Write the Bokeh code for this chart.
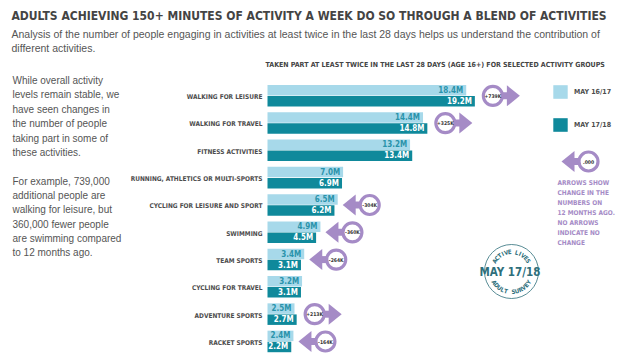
import math
from bokeh.plotting import figure
from bokeh.models import Range1d, Label, Legend, LegendItem, ColumnDataSource
from bokeh.core.properties import value
from bokeh.embed import file_html
from bokeh.resources import INLINE

# ---------------- data ----------------
categories = ["WALKING FOR LEISURE", "WALKING FOR TRAVEL", "FITNESS ACTIVITIES",
              "RUNNING, ATHLETICS OR MULTI-SPORTS", "CYCLING FOR LEISURE AND SPORT",
              "SWIMMING", "TEAM SPORTS", "CYCLING FOR TRAVEL", "ADVENTURE SPORTS",
              "RACKET SPORTS"]
may_16_17 = [18.4, 14.4, 13.2, 7.0, 6.5, 4.9, 3.4, 3.2, 2.5, 2.4]
may_17_18 = [19.2, 14.8, 13.4, 6.9, 6.2, 4.5, 3.1, 3.1, 2.7, 2.2]
change_labels = ["+739K", "+325K", None, None, "-304K", "-360K", "-264K", None, "+213K", "-164K"]
series_names = ["MAY 16/17", "MAY 17/18"]

title_text = "ADULTS ACHIEVING 150+ MINUTES OF ACTIVITY A WEEK DO SO THROUGH A BLEND OF ACTIVITIES"
subtitle_lines = ["Analysis of the number of people engaging in activities at least twice in the last 28 days helps us understand the contribution of",
                  "different activities."]
para1 = ["While overall activity", "levels remain stable, we", "have seen changes in",
         "the number of people", "taking part in some of", "these activities."]
para2 = ["For example, 739,000", "additional people are", "walking for leisure, but",
         "360,000 fewer people", "are swimming compared", "to 12 months ago."]
chart_header = "TAKEN PART AT LEAST TWICE IN THE LAST 28 DAYS (AGE 16+) FOR SELECTED ACTIVITY GROUPS"
key_note = ["ARROWS SHOW", "CHANGE IN THE", "NUMBERS ON", "12 MONTHS AGO.", "NO ARROWS",
            "INDICATE NO", "CHANGE"]

# ---------------- style ----------------
W, H = 624, 361
LIGHT = "#a7d9ea"
DARK = "#0f899b"
LIGHT_TXT = "#2a93ab"
PURPLE = "#a58bc6"
GREY = "#4d4d4d"
TEAL = "#2e6f7b"
COND = "DejaVu Sans Condensed"
SANS = "Liberation Sans"

PX = 10.8      # px per million
PY = 27.3      # px per category row
X0 = 267       # page x of zero
Y0 = 95.3      # page y of first row centre

x_start = (0 - X0) / PX
x_end = (W - X0) / PX
y_start = (H - Y0) / PY
y_end = (0 - Y0) / PY

p = figure(width=W, height=H, output_backend="svg", toolbar_location=None,
           x_range=Range1d(x_start, x_end), y_range=Range1d(y_start, y_end),
           x_axis_type=None, y_axis_type=None, min_border=0)
p.outline_line_color = None
p.grid.visible = False
p.background_fill_color = "white"


def sx(px):
    return px


def sy(py):
    return H - py


def lab(x, y, text, size, color, font=COND, bold=True, align="left", baseline="middle", angle=0):
    p.add_layout(Label(x=sx(x), y=sy(y), x_units="screen", y_units="screen", text=text,
                       text_font=font, text_font_size=f"{size}px",
                       text_font_style="bold" if bold else "normal",
                       text_color=color, text_align=align, text_baseline=baseline,
                       angle=angle))


n = len(categories)
rows = list(range(n))
src = ColumnDataSource(dict(
    y_a=[r - 0.205 for r in rows], y_b=[r + 0.2 for r in rows],
    a=may_16_17, b=may_17_18, cat=categories,
    ta=[f"{v:.1f}M" for v in may_16_17], tb=[f"{v:.1f}M" for v in may_17_18],
))

ra = p.hbar(y="y_a", left=0, right="a", height=0.385, source=src, fill_color=LIGHT, line_color=None)
rb = p.hbar(y="y_b", left=0, right="b", height=0.385, source=src, fill_color=DARK, line_color=None)

# value labels
p.text(x="a", y="y_a", text="ta", source=src, x_offset=-3, text_align="right", text_baseline="middle",
       text_font=value(COND), text_font_style="bold", text_font_size="8px", text_color=LIGHT_TXT)
p.text(x="b", y="y_b", text="tb", source=src, x_offset=-3, text_align="right", text_baseline="middle",
       text_font=value(COND), text_font_style="bold", text_font_size="8px", text_color="white")

# category labels
p.text(x=0, y=[r + 0.05 for r in rows], text=categories, x_offset=-5, text_align="right",
       text_baseline="middle", text_font=value(COND), text_font_style="bold",
       text_font_size="6.5px", text_color=GREY)


# ---------------- change arrows ----------------
def arrow(cx, cy, direction, label):
    d = direction
    hh = 10.5 / PY
    base = cx + d * 14 / PX
    tip = cx + d * 27 / PX
    sh0 = cx + d * 8 / PX
    p.patch([sh0, base + d * 1 / PX, base + d * 1 / PX, sh0],
            [cy - 3.5 / PY, cy - 3.5 / PY, cy + 3.5 / PY, cy + 3.5 / PY],
            fill_color=PURPLE, line_color=None)
    p.patch([base, base, tip], [cy - hh, cy + hh, cy], fill_color=PURPLE, line_color=None)
    p.scatter([cx], [cy], marker="circle", size=19, fill_color="white",
              line_color=PURPLE, line_width=3.2)
    p.text([cx], [cy], text=[label], text_align="center", text_baseline="middle",
           text_font=value(COND), text_font_style="bold", text_font_size="5px",
           text_color="#333333")


for i, lbl in enumerate(change_labels):
    if lbl is None:
        continue
    vmax = max(may_16_17[i], may_17_18[i])
    if lbl.startswith("+"):
        arrow(vmax + 18 / PX, i, 1, lbl)
    else:
        arrow(vmax + 32 / PX, i, -1, lbl)

# key arrow
arrow((588 - X0) / PX, (161 - Y0) / PY, -1, ".000")

# ---------------- legend ----------------
legend = Legend(items=[LegendItem(label=series_names[0], renderers=[ra]),
                       LegendItem(label=series_names[1], renderers=[rb])],
                location=(sx(551), sy(133)), orientation="vertical",
                glyph_width=18, glyph_height=17, spacing=16, label_standoff=5,
                padding=0, margin=0, border_line_color=None, background_fill_alpha=0,
                label_text_font=COND, label_text_font_style="bold",
                label_text_font_size="7px", label_text_color=GREY, label_height=17)
p.add_layout(legend)

# ---------------- texts ----------------
lab(11, 15, title_text, 12, "#444444")
for k, line in enumerate(subtitle_lines):
    lab(11, 33 + 14.5 * k, line, 10.5, "#555555", font=SANS, bold=False)
for k, line in enumerate(para1):
    lab(12, 80 + 14.4 * k, line, 10, "#555555", font=SANS, bold=False)
for k, line in enumerate(para2):
    lab(12, 181 + 14.2 * k, line, 10, "#555555", font=SANS, bold=False)
lab(265, 64, chart_header, 7, "#444444")
for k, line in enumerate(key_note):
    lab(557, 182 + 10 * k, line, 6.5, PURPLE)

# ---------------- stamp ----------------
scx, scy = 511, 271
p.scatter([(scx - X0) / PX], [(scy - Y0) / PY], marker="circle", size=54,
          fill_color=None, line_color=TEAL, line_width=1, line_alpha=0.8)
lab(scx - 1.5, scy, "MAY 17/18", 11.5, TEAL, align="center")
r = 20
top_txt = "ACTIVE LIVES"
bot_txt = "ADULT SURVEY"
span = 116.0
for k, ch in enumerate(top_txt):
    th = math.radians(90 + span / 2 - k * span / (len(top_txt) - 1))
    x = scx + r * math.cos(th)
    y = scy - r * math.sin(th)
    lab(x, y, ch, 6, TEAL, align="center", angle=th - math.pi / 2)
for k, ch in enumerate(bot_txt):
    th = math.radians(270 - span / 2 + k * span / (len(bot_txt) - 1))
    x = scx + r * math.cos(th)
    y = scy - r * math.sin(th)
    lab(x, y, ch, 6, TEAL, align="center", angle=th - 3 * math.pi / 2)

open("out.html", "w").write(file_html(p, INLINE))
